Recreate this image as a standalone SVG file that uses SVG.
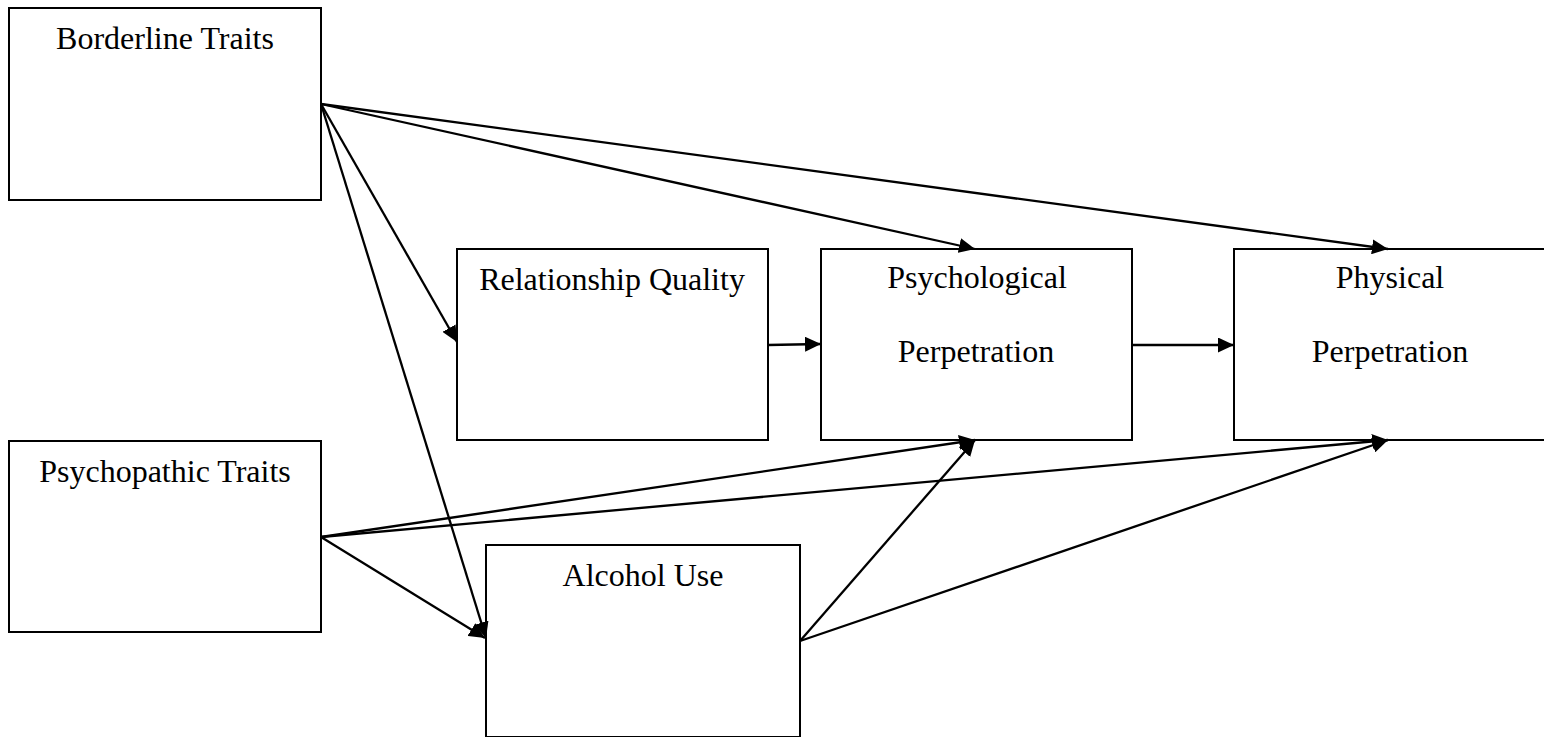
<svg xmlns="http://www.w3.org/2000/svg" width="1544" height="737" viewBox="0 0 1544 737">
  <style>
    .box { fill: #ffffff; stroke: #000000; stroke-width: 2; }
    .label { font-family: "Liberation Serif", "Times New Roman", serif; font-size: 32px; fill: #000000; text-anchor: middle; }
    .edge { stroke: #000000; stroke-width: 2.3; fill: none; marker-end: url(#arrow); }
  </style>
  <defs>
    <marker id="arrow" markerUnits="userSpaceOnUse" markerWidth="17" markerHeight="15" refX="16" refY="7.5" orient="auto">
      <path d="M0,0 L16,7.5 L0,15 Z" fill="#000000"/>
    </marker>
  </defs>
  <rect width="1544" height="737" fill="#ffffff"/>

  <g id="node-borderline">
    <rect class="box" x="9" y="8" width="312" height="192"/>
    <text class="label" x="165" y="49">Borderline Traits</text>
  </g>
  <g id="node-psychopathic">
    <rect class="box" x="9" y="441" width="312" height="191"/>
    <text class="label" x="165" y="482">Psychopathic Traits</text>
  </g>
  <g id="node-relationship">
    <rect class="box" x="457" y="249" width="311" height="191"/>
    <text class="label" x="612" y="290">Relationship Quality</text>
  </g>
  <g id="node-psychological">
    <rect class="box" x="821" y="249" width="311" height="191"/>
    <text class="label" x="977" y="288">Psychological</text>
    <text class="label" x="976" y="362">Perpetration</text>
  </g>
  <g id="node-physical">
    <rect class="box" x="1234" y="249" width="312" height="191"/>
    <text class="label" x="1390" y="288">Physical</text>
    <text class="label" x="1390" y="362">Perpetration</text>
  </g>
  <g id="node-alcohol">
    <rect class="box" x="486" y="545" width="314" height="192"/>
    <text class="label" x="643" y="586">Alcohol Use</text>
  </g>

  <g id="connectors">
    <line class="edge" x1="321" y1="104" x2="457" y2="342"/>
    <line class="edge" x1="321" y1="104" x2="486" y2="638"/>
    <line class="edge" x1="321" y1="104" x2="975" y2="249"/>
    <line class="edge" x1="321" y1="104" x2="1388" y2="249"/>
    <line class="edge" x1="321" y1="537" x2="485" y2="638"/>
    <line class="edge" x1="321" y1="537" x2="975" y2="440"/>
    <line class="edge" x1="321" y1="537" x2="1388" y2="440"/>
    <line class="edge" x1="800" y1="641" x2="975" y2="440"/>
    <line class="edge" x1="800" y1="641" x2="1388" y2="440"/>
    <line class="edge" x1="768" y1="345" x2="821" y2="344"/>
    <line class="edge" x1="1132" y1="345" x2="1234" y2="345"/>
  </g>
</svg>
